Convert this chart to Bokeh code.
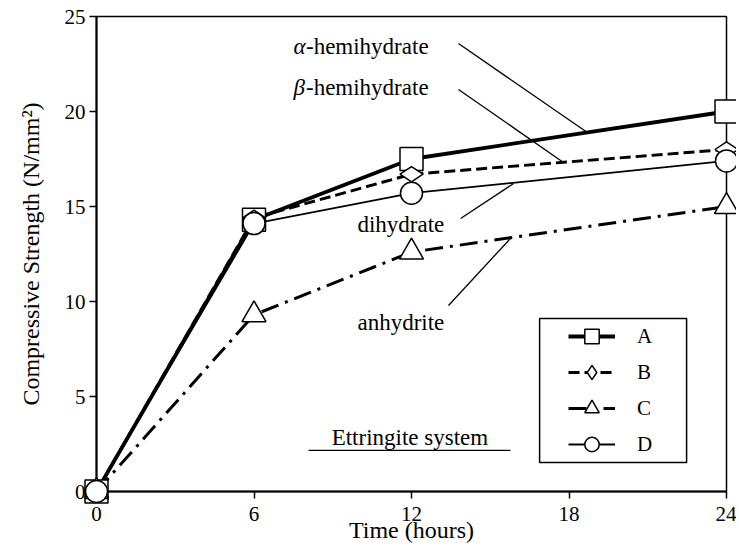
import math
from bokeh.plotting import figure
from bokeh.models import Legend, LegendItem, BoxAnnotation, Range1d
from bokeh.core.properties import value
from bokeh.embed import file_html
from bokeh.resources import INLINE

# ---------------- data ----------------
hours = [0, 6, 12, 24]
series_names = ["A", "B", "C", "D"]
strength_A = [0, 14.3, 17.5, 20.0]
strength_B = [0, 14.4, 16.7, 18.0]
strength_C = [0, 9.3, 12.6, 15.0]
strength_D = [0, 14.1, 15.7, 17.4]
x_ticks = [0, 6, 12, 18, 24]
y_ticks = [0, 5, 10, 15, 20, 25]
x_label = "Time (hours)"
y_label = "Compressive Strength (N/mm\u00b2)"
note_label = "Ettringite system"

FONT = "Liberation Serif"

p = figure(frame_width=630, frame_height=475,
           x_range=Range1d(0, 24), y_range=Range1d(0, 25),
           output_backend="svg", toolbar_location=None,
           min_border_left=96, min_border_top=16,
           min_border_right=10, min_border_bottom=56,
           background_fill_color="white", border_fill_color="white")

p.grid.visible = False
p.outline_line_color = "black"
p.outline_line_width = 1.5

for ax in (p.xaxis[0], p.yaxis[0]):
    ax.axis_line_width = 2
    ax.axis_line_color = "black"
    ax.major_tick_line_width = 1.5
    ax.major_tick_out = 7
    ax.major_tick_in = 0
    ax.minor_tick_out = 0
    ax.minor_tick_in = 0
    ax.major_label_text_font = FONT
    ax.major_label_text_font_size = "21px"
    ax.major_label_text_color = "black"
    ax.axis_label_text_font = FONT
    ax.axis_label_text_font_size = "24px"
    ax.axis_label_text_font_style = "normal"
    ax.axis_label_text_color = "black"

p.xaxis.ticker = x_ticks
p.yaxis.ticker = y_ticks
p.xaxis.axis_label = x_label
p.yaxis.axis_label = y_label
p.xaxis.major_label_standoff = 8
p.yaxis.major_label_standoff = 4
p.xaxis.axis_label_standoff = -7
p.yaxis.axis_label_standoff = 18

series = {"A": strength_A, "B": strength_B, "C": strength_C, "D": strength_D}
styles = {
    "A": dict(line_width=3.8, line_dash="solid", marker="square", size=23, angle=0.0),
    "B": dict(line_width=3.0, line_dash="11 5", marker="diamond", size=23, angle=math.pi / 2),
    "C": dict(line_width=3.0, line_dash="18 7 3 7", marker="triangle", size=24, angle=0.0),
    "D": dict(line_width=1.8, line_dash="solid", marker="circle", size=22, angle=0.0),
}

line_renderers = {}
for name in series_names:
    st = styles[name]
    line_renderers[name] = p.line(hours, series[name], line_color="black",
                                  line_width=st["line_width"], line_dash=st["line_dash"])

marker_renderers = {}
for name in series_names:
    st = styles[name]
    marker_renderers[name] = p.scatter(hours, series[name], marker=st["marker"], size=st["size"],
                                       angle=st["angle"], fill_color="white", line_color="black",
                                       line_width=1.5, level="overlay")

# ---------------- annotations ----------------
TXT = dict(text_font=value(FONT), text_font_size="23px", text_color="black",
           text_baseline="middle")

# alpha / beta labels (greek letter in italic)
p.text(x=[7.5], y=[23.42], text=["\u03b1"], text_align="left", text_font_style="italic", **TXT)
p.text(x=[7.98], y=[23.42], text=["-hemihydrate"], text_align="left", **TXT)
p.text(x=[7.5], y=[21.26], text=["\u03b2"], text_align="left", text_font_style="italic", **TXT)
p.text(x=[7.98], y=[21.26], text=["-hemihydrate"], text_align="left", **TXT)
p.text(x=[9.94], y=[14.05], text=["dihydrate"], text_align="left", **TXT)
p.text(x=[9.94], y=[8.89], text=["anhydrite"], text_align="left", **TXT)
p.text(x=[11.94], y=[2.86], text=[note_label], text_align="center", **TXT)

# leader lines
p.segment(x0=[13.79, 13.79, 13.87, 13.41], y0=[23.58, 21.16, 14.37, 9.79],
          x1=[18.70, 17.79, 15.89, 15.77], y1=[18.89, 17.32, 16.21, 13.32],
          line_color="black", line_width=1.3)
# underline of the note
p.segment(x0=[8.08], y0=[2.16], x1=[15.77], y1=[2.16], line_color="black", line_width=1.3)

# ---------------- legend ----------------
box = BoxAnnotation(left=16.88, right=22.48, bottom=1.53, top=9.10,
                    fill_alpha=0, line_color="black", line_alpha=1.0, line_width=1.5)
p.add_layout(box)

items = [LegendItem(label=name, renderers=[line_renderers[name], marker_renderers[name]])
         for name in series_names]
legend = Legend(items=items, location=(472, 29), orientation="vertical",
                glyph_width=47, glyph_height=36, spacing=0, padding=0, margin=0,
                label_standoff=22, label_text_font=FONT, label_text_font_size="21px",
                label_text_color="black", label_height=20,
                border_line_alpha=0, background_fill_alpha=0)
p.add_layout(legend)

open("out.html", "w").write(file_html(p, INLINE))
